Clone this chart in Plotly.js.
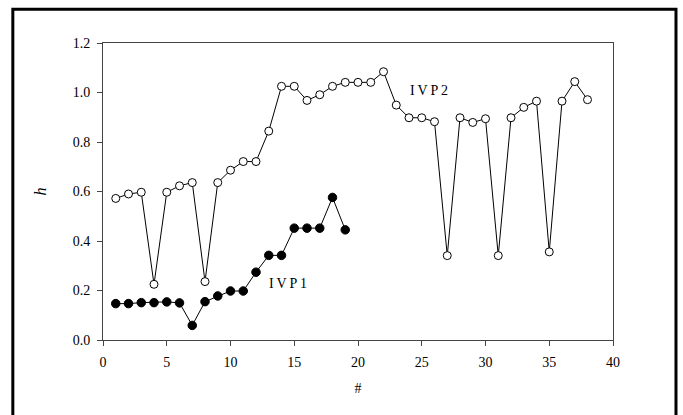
<!DOCTYPE html>
<html>
<head>
<meta charset="utf-8">
<script src="https://cdn.plot.ly/plotly-3.0.1.min.js"></script>
<style>
html,body{margin:0;padding:0;background:#fff;}
#chart{width:683px;height:415px;}
</style>
</head>
<body>
<div id="chart"></div>
<script>
// Data
const ivp1X = [1,2,3,4,5,6,7,8,9,10,11,12,13,14,15,16,17,18,19];
const ivp1Y = [0.147,0.147,0.151,0.151,0.154,0.150,0.059,0.155,0.178,0.198,0.198,0.274,0.342,0.342,0.452,0.452,0.452,0.576,0.445];

const ivp2X = [1,2,3,4,5,6,7,8,9,10,11,12,13,14,15,16,17,18,19,20,21,22,23,24,25,26,27,28,29,30,31,32,33,34,35,36,37,38];
const ivp2Y = [0.572,0.590,0.597,0.225,0.597,0.623,0.636,0.236,0.636,0.686,0.721,0.721,0.844,1.025,1.025,0.968,0.991,1.025,1.041,1.041,1.041,1.084,0.949,0.898,0.898,0.882,0.341,0.898,0.879,0.894,0.341,0.898,0.940,0.965,0.356,0.965,1.044,0.971];

const xTicks = [0,5,10,15,20,25,30,35,40];
const yTicks = [0.0,0.2,0.4,0.6,0.8,1.0,1.2];
const yTickText = ["0.0","0.2","0.4","0.6","0.8","1.0","1.2"];

const labels = [
  {text: "I\u2009V\u2009P\u20091", x: 14.5, y: 0.23},
  {text: "I\u2009V\u2009P\u20092", x: 25.6, y: 1.01}
];

const serif = "'Liberation Serif'";

const traces = [
  {
    x: ivp2X, y: ivp2Y, type: "scatter", mode: "lines+markers", name: "IVP2",
    line: {color: "#000", width: 1},
    marker: {symbol: "circle", size: 8, color: "#fff", line: {color: "#000", width: 1}}
  },
  {
    x: ivp1X, y: ivp1Y, type: "scatter", mode: "lines+markers", name: "IVP1",
    line: {color: "#000", width: 1},
    marker: {symbol: "circle", size: 8.5, color: "#000", line: {color: "#000", width: 1}}
  }
];

const layout = {
  width: 683, height: 415,
  margin: {l: 103, r: 70, t: 43, b: 75, pad: 0},
  paper_bgcolor: "#fff", plot_bgcolor: "#fff",
  showlegend: false,
  font: {family: serif, size: 14, color: "#000"},
  xaxis: {
    range: [0, 40], tickvals: xTicks, ticktext: xTicks.map(String),
    ticks: "outside", ticklen: 5, tickwidth: 1, tickcolor: "#444",
    showline: true, linecolor: "#444", linewidth: 1, mirror: true,
    showgrid: false, zeroline: false, ticklabelstandoff: 4,
    tickfont: {family: serif, size: 14, color: "#000"},
    title: {text: "#", font: {family: serif, size: 14, color: "#000"}, standoff: 14}
  },
  yaxis: {
    range: [0, 1.2], tickvals: yTicks, ticktext: yTickText,
    ticks: "outside", ticklen: 5, tickwidth: 1, tickcolor: "#444",
    showline: true, linecolor: "#444", linewidth: 1, mirror: true,
    showgrid: false, zeroline: false, ticklabelstandoff: 4,
    tickfont: {family: serif, size: 14, color: "#000"},
    title: {text: "<i>h</i>", font: {family: serif, size: 16, color: "#000"}, standoff: 22}
  },
  annotations: labels.map(l => ({
    text: l.text, x: l.x, y: l.y, xref: "x", yref: "y",
    showarrow: false, font: {family: serif, size: 14, color: "#000"},
    xanchor: "center", yanchor: "middle"
  })),
  shapes: [{
    type: "rect", xref: "paper", yref: "paper",
    x0: -0.1768, x1: 1.1235, y0: -0.3, y1: 1.114,
    line: {color: "#000", width: 3}, fillcolor: "rgba(0,0,0,0)", layer: "below"
  }]
};

Plotly.newPlot("chart", traces, layout, {displayModeBar: false, staticPlot: true});
</script>
</body>
</html>
